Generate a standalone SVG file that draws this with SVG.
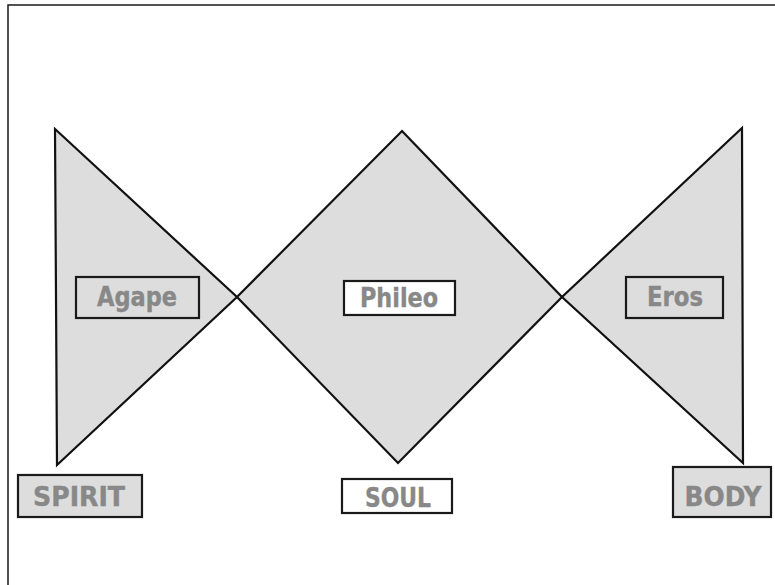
<svg xmlns="http://www.w3.org/2000/svg" width="775" height="585" viewBox="0 0 775 585">
<style>
.shape{fill:#dddddd;stroke:#111111;stroke-width:2.2;stroke-linejoin:miter}
.box{stroke:#1a1a1a;stroke-width:2.2}
.grey{fill:#dddddd}
.white{fill:#ffffff}
.lbl{font-family:"DejaVu Sans",sans-serif;font-weight:bold;font-size:26px;fill:#888888;stroke:#888888;stroke-width:0.4;text-anchor:middle}
.frame{stroke:#1a1a1a;stroke-width:1.5;fill:none}
</style>
<rect width="775" height="585" fill="#ffffff"/>
<path class="frame" d="M8 585 V5 H775"/>
<g id="agape-shape"><polygon class="shape" points="55,129 237,297 57,465"/></g>
<g id="phileo-shape"><polygon class="shape" points="402,131 562,297 398,463 237,297"/></g>
<g id="eros-shape"><polygon class="shape" points="742,128 743,463 562,297"/></g>
<g id="connectors"></g>
<g id="agape"><rect class="box grey" x="76" y="277" width="123" height="41"/><text class="lbl" x="137" y="306" textLength="80" lengthAdjust="spacingAndGlyphs">Agape</text></g>
<g id="phileo"><rect class="box white" x="344" y="281" width="111" height="34"/><text class="lbl" x="399" y="307" textLength="78" lengthAdjust="spacingAndGlyphs">Phileo</text></g>
<g id="eros"><rect class="box grey" x="626" y="277" width="97" height="41"/><text class="lbl" x="675" y="306" textLength="56" lengthAdjust="spacingAndGlyphs">Eros</text></g>
<g id="spirit"><rect class="box grey" x="18" y="475" width="124" height="42"/><text class="lbl" x="79" y="506" textLength="92" lengthAdjust="spacingAndGlyphs">SPIRIT</text></g>
<g id="soul"><rect class="box white" x="342" y="479" width="110" height="34"/><text class="lbl" x="398" y="507" textLength="66" lengthAdjust="spacingAndGlyphs">SOUL</text></g>
<g id="body"><rect class="box grey" x="673" y="467" width="98" height="50"/><text class="lbl" x="723" y="506" textLength="77" lengthAdjust="spacingAndGlyphs">BODY</text></g>
</svg>
